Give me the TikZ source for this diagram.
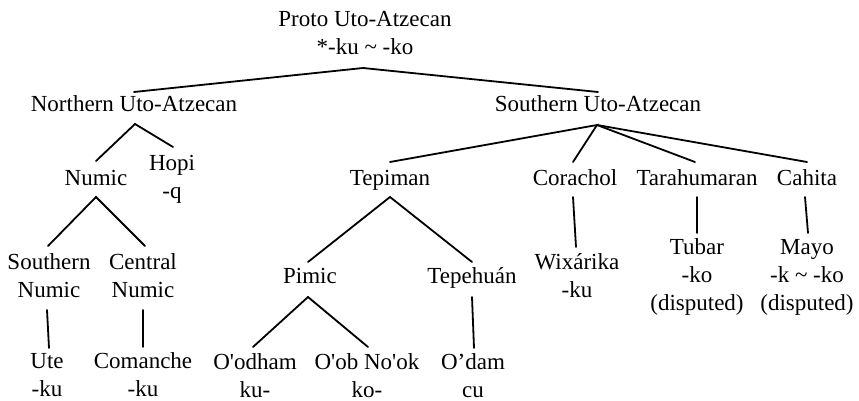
\documentclass[tikz,border=0pt]{standalone}
\usepackage{fontspec}
\setmainfont{Liberation Serif}[Ligatures=TeXOff]
\begin{document}
\begin{tikzpicture}[x=1pt,y=-1pt,
  lbl/.style={anchor=base,inner sep=0pt,align=center,font=\fontsize{23}{28}\selectfont},
  branch/.style={line width=1.8pt,line cap=round}]
\path[use as bounding box] (0,0) rectangle (859,401);

% labels, placed at the baseline of their last line
\node[lbl] (root) at (365,55) {Proto Uto-Atzecan\\*-ku \textasciitilde\ -ko};
\node[lbl] (nua) at (134,112) {Northern Uto-Atzecan};
\node[lbl] (sua) at (598,112) {Southern Uto-Atzecan};
\node[lbl] (numic) at (96,185) {Numic};
\node[lbl] (hopi) at (172,198) {Hopi\\-q};
\node[lbl] (snum) at (49,297) {Southern\\Numic};
\node[lbl] (cnum) at (143,297) {Central\\Numic};
\node[lbl] (ute) at (47,396) {Ute\\-ku};
\node[lbl] (com) at (143,396) {Comanche\\-ku};
\node[lbl] (tepiman) at (390,185) {Tepiman};
\node[lbl] (pimic) at (310,283) {Pimic};
\node[lbl] (tepehuan) at (472,283) {Tepehuán};
\node[lbl] (oodham) at (255,397) {O'odham\\ku-};
\node[lbl] (oob) at (367,397) {O'ob No'ok\\ko-};
\node[lbl] (odam) at (473,397) {O’dam\\cu};
\node[lbl] (corachol) at (575,185) {Corachol};
\node[lbl] (wix) at (577,297) {Wixárika\\-ku};
\node[lbl] (tara) at (697,185) {Tarahumaran};
\node[lbl] (tubar) at (697,310) {Tubar\\-ko\\(disputed)};
\node[lbl] (cahita) at (807,185) {Cahita};
\node[lbl] (mayo) at (807,310) {Mayo\\-k \textasciitilde\ -ko\\(disputed)};

% branches: from just below a parent's last line to just above a child's first line
\draw[branch] ([yshift=20pt]nua.base) -- ([yshift=-13pt,xshift=-2pt]root.base) -- ([yshift=20pt]sua.base);

\draw[branch] ([yshift=24pt]numic.base) -- ([yshift=-12pt,xshift=1pt]nua.base) -- ([yshift=51pt,xshift=1pt]hopi.base);

\draw[branch] ([yshift=51pt,xshift=-1pt]snum.base) -- ([yshift=-12pt]numic.base) -- ([yshift=51pt,xshift=2pt]cnum.base);
\draw[branch] ([yshift=-13pt,xshift=-2pt]snum.base) -- ([yshift=48pt,xshift=2pt]ute.base);
\draw[branch] ([yshift=-13pt]cnum.base) -- ([yshift=49pt]com.base);

\draw[branch] ([yshift=23pt]tepiman.base) -- ([yshift=-13pt,xshift=-1pt]sua.base) -- ([yshift=23pt,xshift=-2pt]corachol.base);
\draw[branch] ([yshift=-13pt,xshift=-1pt]sua.base) -- ([yshift=23pt,xshift=-2pt]tara.base);
\draw[branch] ([yshift=-13pt,xshift=-1pt]sua.base) -- ([yshift=23pt]cahita.base);

\draw[branch] ([yshift=21pt,xshift=-2pt]pimic.base) -- ([yshift=-12pt]tepiman.base) -- ([yshift=21pt]tepehuan.base);
\draw[branch] ([yshift=50pt,xshift=-2pt]oodham.base) -- ([yshift=-14pt,xshift=-2pt]pimic.base) -- ([yshift=50pt,xshift=1pt]oob.base);
\draw[branch] ([yshift=-14pt]tepehuan.base) -- ([yshift=49pt,xshift=1pt]odam.base);

\draw[branch] ([yshift=-12pt,xshift=-2pt]corachol.base) -- ([yshift=50pt,xshift=-1pt]wix.base);
\draw[branch] ([yshift=-12pt]tara.base) -- ([yshift=77pt]tubar.base);
\draw[branch] ([yshift=-12pt,xshift=-2pt]cahita.base) -- ([yshift=77pt,xshift=1pt]mayo.base);
\end{tikzpicture}
\end{document}
